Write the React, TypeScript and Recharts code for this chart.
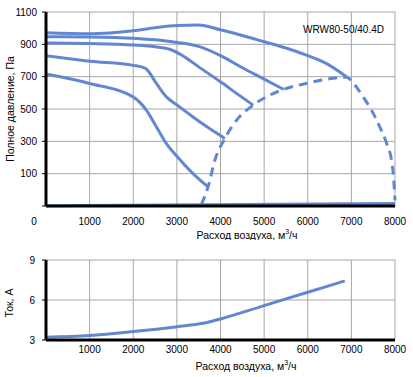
import { LineChart, Line, XAxis, YAxis, CartesianGrid, Label } from "recharts";

const font = "'Liberation Sans', Arial, sans-serif";
const blue = "#6287d0";

const flowTicks = [0, 1000, 2000, 3000, 4000, 5000, 6000, 7000, 8000];
const currentFlowTicks = [1000, 2000, 3000, 4000, 5000, 6000, 7000, 8000];
const pressureTicks = [-100, 100, 300, 500, 700, 900, 1100];
const currentTicks = [3, 6, 9];

// fan curves (flow, m3/h -> total pressure, Pa)
const curve1Flow = [0, 1000, 2000, 2500, 3000, 3500, 4000, 4500, 5000, 5500, 6000, 6400, 6900];
const curve1Pa = [972, 966, 984, 1003, 1017, 1020, 990, 955, 916, 877, 830, 785, 697];

const curve2Flow = [0, 1000, 2000, 3000, 3500, 4000, 4500, 5000, 5450];
const curve2Pa = [947, 945, 937, 912, 887, 830, 755, 685, 621];

const curve3Flow = [0, 1000, 2000, 2500, 2850, 3100, 3525, 4000, 4375, 4750];
const curve3Pa = [908, 905, 896, 885, 868, 835, 756, 668, 595, 524];

const curve4Flow = [0, 1000, 2000, 2280, 2530, 2760, 3010, 3370, 3750, 4100];
const curve4Pa = [829, 796, 770, 751, 658, 575, 524, 451, 379, 318];

const curve5Flow = [0, 1000, 1995, 2300, 2530, 2760, 3010, 3370, 3715];
const curve5Pa = [716, 658, 575, 493, 390, 286, 204, 100, 18];

const baseFlow = [0, 8000];
const basePa = [-98, -84];

const limitFlow = [3560, 3640, 3715, 3870, 4100, 4370, 4750, 5050, 5450, 6030, 6580, 6890, 7080, 7270, 7460, 7650, 7810, 7920, 7960, 8000];
const limitPa = [-92, -40, 18, 183, 318, 431, 524, 575, 621, 662, 690, 697, 648, 575, 493, 390, 286, 183, 100, -65];

// current draw (flow, m3/h -> A)
const currentFlow = [0, 1000, 2000, 3000, 3600, 4000, 5000, 6000, 6850];
const currentA = [3.2, 3.33, 3.63, 4.0, 4.25, 4.58, 5.58, 6.58, 7.43];

const toPoints = (xs: number[], ys: number[]) => xs.map((x, i) => ({ x, y: ys[i] }));

const pressureCurves = [
  toPoints(curve1Flow, curve1Pa),
  toPoints(curve2Flow, curve2Pa),
  toPoints(curve3Flow, curve3Pa),
  toPoints(curve4Flow, curve4Pa),
  toPoints(curve5Flow, curve5Pa),
  toPoints(baseFlow, basePa),
];
const limitCurve = toPoints(limitFlow, limitPa);
const currentCurve = toPoints(currentFlow, currentA);

const tickStyle = { fontSize: 10, fill: "#000", fontFamily: font };
const titleStyle = { fontSize: 10.5, fill: "#000", fontFamily: font };
const axisLine = { stroke: "#000", strokeWidth: 3 };

const FlowTick = (props: any) => {
  const { x, y, payload } = props;
  const shift = payload.value === 0 ? -12 : 0;
  return (
    <text x={x + shift} y={y} dy="0.71em" textAnchor="middle" {...tickStyle}>
      {payload.value}
    </text>
  );
};

const yTitle = (text: string, x: number, y: number) => () => (
  <text x={x} y={y} transform={`rotate(-90 ${x} ${y})`} textAnchor="middle" dominantBaseline="central" {...titleStyle}>
    {text}
  </text>
);

const xTitle = (x: number, y: number) => () => (
  <text x={x} y={y} textAnchor="middle" dominantBaseline="central" {...titleStyle}>
    Расход воздуха, м<tspan dy={-4} fontSize={7}>3</tspan>
    <tspan dy={4}>/ч</tspan>
  </text>
);

export default function App() {
  return (
    <div style={{ position: "absolute", left: 0, top: 0, width: 413, height: 377, background: "#fff", fontFamily: font }}>
      <div style={{ position: "absolute", left: 0, top: 0 }}>
        <LineChart width={413} height={240} margin={{ top: 12, right: 18, bottom: 4, left: 0 }}>
          <CartesianGrid stroke="#a6a6a6" />
          <XAxis
            type="number"
            dataKey="x"
            domain={[0, 8000]}
            ticks={flowTicks}
            height={30}
            tickLine={false}
            tickSize={0}
            tickMargin={12}
            axisLine={axisLine}
            tick={<FlowTick />}
            allowDuplicatedCategory={false}
          >
            <Label content={xTitle(247, 235)} />
          </XAxis>
          <YAxis
            type="number"
            dataKey="y"
            domain={[-100, 1100]}
            ticks={pressureTicks}
            width={46}
            tickSize={4}
            tickMargin={5}
            tickLine={{ stroke: "#000" }}
            tickFormatter={(v: number) => (v < 0 ? "" : String(v))}
            axisLine={axisLine}
            tick={tickStyle}
          >
            <Label content={yTitle("Полное давление, Па", 10, 109)} />
          </YAxis>
          {pressureCurves.map((d, i) => (
            <Line
              key={i}
              data={d}
              dataKey="y"
              type="monotone"
              stroke={blue}
              strokeWidth={3}
              dot={false}
              isAnimationActive={false}
            />
          ))}
          <Line
            data={limitCurve}
            dataKey="y"
            type="monotone"
            stroke={blue}
            strokeWidth={3}
            strokeDasharray="9 6"
            dot={false}
            isAnimationActive={false}
          />
        </LineChart>
        <div style={{ position: "absolute", left: 303, top: 24, fontSize: 10, lineHeight: "12px", whiteSpace: "nowrap" }}>
          WRW80-50/40.4D
        </div>
      </div>
      <div style={{ position: "absolute", left: 0, top: 240 }}>
        <LineChart width={413} height={137} data={currentCurve} margin={{ top: 20, right: 18, bottom: 4, left: 0 }}>
          <CartesianGrid stroke="#a6a6a6" />
          <XAxis
            type="number"
            dataKey="x"
            domain={[0, 8000]}
            ticks={currentFlowTicks}
            height={33}
            tickLine={false}
            tickSize={0}
            tickMargin={6}
            axisLine={axisLine}
            tick={tickStyle}
          >
            <Label content={xTitle(246, 126)} />
          </XAxis>
          <YAxis
            type="number"
            domain={[3, 9]}
            ticks={currentTicks}
            width={46}
            tickSize={4}
            tickMargin={7}
            tickLine={{ stroke: "#000" }}
            axisLine={axisLine}
            tick={tickStyle}
          >
            <Label content={yTitle("Ток, А", 9, 63)} />
          </YAxis>
          <Line dataKey="y" type="monotone" stroke={blue} strokeWidth={3} dot={false} isAnimationActive={false} />
        </LineChart>
      </div>
    </div>
  );
}
